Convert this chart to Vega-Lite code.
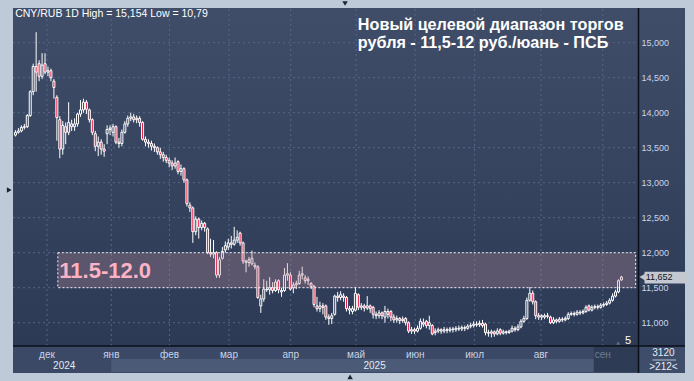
{
"$schema": "https://vega.github.io/schema/vega-lite/v6.json",
"width": 682, "height": 365,
"autosize": "none",
"padding": {"left": 8, "top": 8, "right": 4, "bottom": 8},
"background": "#bfcad8",
"config": {"view": {"stroke": null}, "text": {"font": "Liberation Sans"}},
"datasets": {
"candles": [
{"i":0,"o":13.68,"h":13.75,"l":13.66,"c":13.72},{"i":1,"o":13.72,"h":13.78,"l":13.70,"c":13.74},{"i":2,"o":13.74,"h":13.82,"l":13.72,"c":13.79},{"i":3,"o":13.79,"h":13.84,"l":13.76,"c":13.80},{"i":4,"o":13.80,"h":13.98,"l":13.78,"c":13.96},{"i":5,"o":13.96,"h":14.32,"l":13.94,"c":14.30},{"i":6,"o":14.30,"h":14.70,"l":14.25,"c":14.66},{"i":7,"o":14.66,"h":15.15,"l":14.30,"c":14.58},{"i":8,"o":14.70,"h":14.75,"l":14.45,"c":14.52},{"i":9,"o":14.52,"h":14.85,"l":14.48,"c":14.68},
{"i":10,"o":14.70,"h":14.85,"l":14.55,"c":14.58},{"i":11,"o":14.58,"h":14.66,"l":14.52,"c":14.60},{"i":12,"o":14.60,"h":14.63,"l":14.45,"c":14.50},{"i":13,"o":14.45,"h":14.48,"l":14.20,"c":14.36},{"i":14,"o":14.22,"h":14.25,"l":13.60,"c":13.93},{"i":15,"o":13.90,"h":13.95,"l":13.35,"c":13.48},{"i":16,"o":13.48,"h":13.88,"l":13.40,"c":13.82},{"i":17,"o":13.80,"h":13.86,"l":13.55,"c":13.72},{"i":18,"o":13.72,"h":14.15,"l":13.68,"c":13.86},{"i":19,"o":13.84,"h":13.90,"l":13.74,"c":13.80},
{"i":20,"o":13.80,"h":13.92,"l":13.74,"c":13.84},{"i":21,"o":13.84,"h":14.00,"l":13.80,"c":13.98},{"i":22,"o":13.98,"h":14.18,"l":13.94,"c":14.04},{"i":23,"o":14.04,"h":14.20,"l":14.00,"c":14.15},{"i":24,"o":14.15,"h":14.18,"l":13.98,"c":14.05},{"i":25,"o":14.04,"h":14.06,"l":13.86,"c":13.90},{"i":26,"o":13.90,"h":13.92,"l":13.68,"c":13.72},{"i":27,"o":13.70,"h":13.74,"l":13.45,"c":13.52},{"i":28,"o":13.52,"h":13.66,"l":13.38,"c":13.58},{"i":29,"o":13.58,"h":13.62,"l":13.40,"c":13.48},
{"i":30,"o":13.48,"h":13.55,"l":13.37,"c":13.45},{"i":31,"o":13.70,"h":13.82,"l":13.55,"c":13.76},{"i":32,"o":13.76,"h":13.82,"l":13.68,"c":13.78},{"i":33,"o":13.72,"h":13.84,"l":13.66,"c":13.80},{"i":34,"o":13.80,"h":13.82,"l":13.55,"c":13.58},{"i":35,"o":13.58,"h":13.64,"l":13.50,"c":13.56},{"i":36,"o":13.56,"h":13.76,"l":13.52,"c":13.72},{"i":37,"o":13.72,"h":13.88,"l":13.70,"c":13.84},{"i":38,"o":13.84,"h":13.96,"l":13.80,"c":13.92},{"i":39,"o":13.92,"h":14.00,"l":13.88,"c":13.94},
{"i":40,"o":13.94,"h":13.98,"l":13.86,"c":13.90},{"i":41,"o":13.90,"h":13.96,"l":13.85,"c":13.92},{"i":42,"o":13.92,"h":13.95,"l":13.80,"c":13.86},{"i":43,"o":13.86,"h":13.88,"l":13.60,"c":13.62},{"i":44,"o":13.62,"h":13.66,"l":13.52,"c":13.58},{"i":45,"o":13.58,"h":13.62,"l":13.50,"c":13.56},{"i":46,"o":13.56,"h":13.60,"l":13.46,"c":13.52},{"i":47,"o":13.52,"h":13.56,"l":13.44,"c":13.50},{"i":48,"o":13.50,"h":13.52,"l":13.40,"c":13.44},{"i":49,"o":13.44,"h":13.50,"l":13.34,"c":13.40},
{"i":50,"o":13.40,"h":13.44,"l":13.30,"c":13.36},{"i":51,"o":13.36,"h":13.40,"l":13.28,"c":13.32},{"i":52,"o":13.32,"h":13.36,"l":13.22,"c":13.28},{"i":53,"o":13.28,"h":13.32,"l":13.18,"c":13.24},{"i":54,"o":13.24,"h":13.36,"l":13.20,"c":13.28},{"i":55,"o":13.30,"h":13.32,"l":13.12,"c":13.16},{"i":56,"o":13.16,"h":13.26,"l":13.10,"c":13.20},{"i":57,"o":13.20,"h":13.22,"l":13.00,"c":13.04},{"i":58,"o":13.04,"h":13.06,"l":12.66,"c":12.70},{"i":59,"o":12.68,"h":12.72,"l":12.58,"c":12.64},
{"i":60,"o":12.64,"h":12.66,"l":12.14,"c":12.30},{"i":61,"o":12.30,"h":12.52,"l":12.25,"c":12.48},{"i":62,"o":12.48,"h":12.50,"l":12.20,"c":12.36},{"i":63,"o":12.36,"h":12.46,"l":12.32,"c":12.42},{"i":64,"o":12.42,"h":12.44,"l":12.30,"c":12.36},{"i":65,"o":12.34,"h":12.36,"l":11.98,"c":12.00},{"i":66,"o":12.00,"h":12.20,"l":11.94,"c":11.98},{"i":67,"o":11.98,"h":12.18,"l":11.92,"c":12.00},{"i":68,"o":12.00,"h":12.02,"l":11.64,"c":11.68},{"i":69,"o":11.68,"h":11.94,"l":11.64,"c":11.90},
{"i":70,"o":11.92,"h":12.08,"l":11.90,"c":12.02},{"i":71,"o":12.04,"h":12.16,"l":12.00,"c":12.10},{"i":72,"o":12.08,"h":12.20,"l":12.04,"c":12.14},{"i":73,"o":12.14,"h":12.24,"l":12.06,"c":12.12},{"i":74,"o":12.12,"h":12.37,"l":12.10,"c":12.18},{"i":75,"o":12.18,"h":12.32,"l":12.14,"c":12.22},{"i":76,"o":12.28,"h":12.30,"l":12.10,"c":12.14},{"i":77,"o":12.14,"h":12.16,"l":11.84,"c":11.88},{"i":78,"o":11.88,"h":11.90,"l":11.72,"c":11.86},{"i":79,"o":11.86,"h":11.94,"l":11.80,"c":11.90},
{"i":80,"o":11.84,"h":12.03,"l":11.82,"c":11.92},{"i":81,"o":11.82,"h":11.86,"l":11.76,"c":11.80},{"i":82,"o":11.80,"h":11.82,"l":11.34,"c":11.36},{"i":83,"o":11.24,"h":11.40,"l":11.14,"c":11.34},{"i":84,"o":11.34,"h":11.62,"l":11.30,"c":11.48},{"i":85,"o":11.48,"h":11.60,"l":11.44,"c":11.47},{"i":86,"o":11.47,"h":11.65,"l":11.40,"c":11.50},{"i":87,"o":11.50,"h":11.58,"l":11.42,"c":11.46},{"i":88,"o":11.46,"h":11.62,"l":11.44,"c":11.58},{"i":89,"o":11.60,"h":11.62,"l":11.42,"c":11.47},
{"i":90,"o":11.44,"h":11.50,"l":11.37,"c":11.46},{"i":91,"o":11.46,"h":11.78,"l":11.44,"c":11.68},{"i":92,"o":11.68,"h":11.85,"l":11.60,"c":11.70},{"i":93,"o":11.68,"h":11.72,"l":11.46,"c":11.48},{"i":94,"o":11.50,"h":11.58,"l":11.42,"c":11.54},{"i":95,"o":11.54,"h":11.60,"l":11.48,"c":11.56},{"i":96,"o":11.56,"h":11.74,"l":11.54,"c":11.68},{"i":97,"o":11.68,"h":11.80,"l":11.62,"c":11.70},{"i":98,"o":11.64,"h":11.68,"l":11.56,"c":11.60},{"i":99,"o":11.60,"h":11.66,"l":11.54,"c":11.62},
{"i":100,"o":11.56,"h":11.58,"l":11.48,"c":11.52},{"i":101,"o":11.52,"h":11.54,"l":11.22,"c":11.26},{"i":102,"o":11.24,"h":11.37,"l":11.16,"c":11.20},{"i":103,"o":11.20,"h":11.30,"l":11.15,"c":11.24},{"i":104,"o":11.24,"h":11.28,"l":11.12,"c":11.22},{"i":105,"o":11.24,"h":11.26,"l":11.04,"c":11.08},{"i":106,"o":11.08,"h":11.12,"l":10.97,"c":11.06},{"i":107,"o":11.06,"h":11.14,"l":10.98,"c":11.10},{"i":108,"o":11.12,"h":11.40,"l":11.10,"c":11.38},{"i":109,"o":11.38,"h":11.44,"l":11.30,"c":11.36},
{"i":110,"o":11.36,"h":11.45,"l":11.32,"c":11.40},{"i":111,"o":11.38,"h":11.42,"l":11.30,"c":11.36},{"i":112,"o":11.36,"h":11.38,"l":11.16,"c":11.20},{"i":113,"o":11.20,"h":11.24,"l":11.12,"c":11.18},{"i":114,"o":11.16,"h":11.24,"l":11.12,"c":11.20},{"i":115,"o":11.18,"h":11.51,"l":11.16,"c":11.42},{"i":116,"o":11.40,"h":11.42,"l":11.18,"c":11.22},{"i":117,"o":11.22,"h":11.28,"l":11.18,"c":11.24},{"i":118,"o":11.24,"h":11.27,"l":11.16,"c":11.21},{"i":119,"o":11.21,"h":11.38,"l":11.18,"c":11.24},
{"i":120,"o":11.24,"h":11.26,"l":11.14,"c":11.20},{"i":121,"o":11.22,"h":11.24,"l":11.06,"c":11.12},{"i":122,"o":11.12,"h":11.16,"l":11.05,"c":11.10},{"i":123,"o":11.10,"h":11.18,"l":11.06,"c":11.14},{"i":124,"o":11.14,"h":11.16,"l":11.05,"c":11.10},{"i":125,"o":11.08,"h":11.24,"l":11.00,"c":11.16},{"i":126,"o":11.16,"h":11.20,"l":11.06,"c":11.12},{"i":127,"o":11.16,"h":11.18,"l":11.02,"c":11.08},{"i":128,"o":11.08,"h":11.12,"l":11.00,"c":11.04},{"i":129,"o":11.04,"h":11.10,"l":11.00,"c":11.06},
{"i":130,"o":11.06,"h":11.08,"l":10.98,"c":11.03},{"i":131,"o":11.03,"h":11.09,"l":11.00,"c":11.05},{"i":132,"o":11.06,"h":11.08,"l":10.96,"c":11.00},{"i":133,"o":11.00,"h":11.02,"l":10.85,"c":10.88},{"i":134,"o":10.88,"h":10.94,"l":10.84,"c":10.90},{"i":135,"o":10.90,"h":10.93,"l":10.84,"c":10.88},{"i":136,"o":10.88,"h":10.96,"l":10.86,"c":10.92},{"i":137,"o":10.92,"h":11.06,"l":10.90,"c":11.02},{"i":138,"o":11.00,"h":11.06,"l":10.94,"c":10.98},{"i":139,"o":11.02,"h":11.04,"l":10.92,"c":10.96},
{"i":140,"o":10.96,"h":11.10,"l":10.90,"c":11.00},{"i":141,"o":10.96,"h":10.98,"l":10.82,"c":10.84},{"i":142,"o":10.86,"h":10.92,"l":10.82,"c":10.88},{"i":143,"o":10.88,"h":10.93,"l":10.85,"c":10.90},{"i":144,"o":10.90,"h":10.92,"l":10.84,"c":10.88},{"i":145,"o":10.88,"h":10.94,"l":10.85,"c":10.90},{"i":146,"o":10.90,"h":10.93,"l":10.85,"c":10.89},{"i":147,"o":10.89,"h":10.94,"l":10.86,"c":10.91},{"i":148,"o":10.91,"h":10.94,"l":10.86,"c":10.90},{"i":149,"o":10.90,"h":10.95,"l":10.87,"c":10.92},
{"i":150,"o":10.92,"h":10.96,"l":10.88,"c":10.91},{"i":151,"o":10.91,"h":10.96,"l":10.88,"c":10.93},{"i":152,"o":10.93,"h":10.96,"l":10.88,"c":10.92},{"i":153,"o":10.92,"h":10.98,"l":10.90,"c":10.95},{"i":154,"o":10.95,"h":11.00,"l":10.92,"c":10.96},{"i":155,"o":10.96,"h":11.02,"l":10.93,"c":10.98},{"i":156,"o":10.98,"h":11.02,"l":10.94,"c":10.97},{"i":157,"o":10.97,"h":11.03,"l":10.94,"c":10.99},{"i":158,"o":10.99,"h":11.04,"l":10.93,"c":10.96},{"i":159,"o":10.98,"h":11.00,"l":10.82,"c":10.86},
{"i":160,"o":10.86,"h":10.90,"l":10.80,"c":10.85},{"i":161,"o":10.85,"h":10.90,"l":10.79,"c":10.87},{"i":162,"o":10.87,"h":10.89,"l":10.80,"c":10.84},{"i":163,"o":10.84,"h":10.92,"l":10.82,"c":10.88},{"i":164,"o":10.90,"h":10.92,"l":10.82,"c":10.85},{"i":165,"o":10.85,"h":10.90,"l":10.83,"c":10.87},{"i":166,"o":10.87,"h":10.89,"l":10.83,"c":10.86},{"i":167,"o":10.86,"h":10.90,"l":10.84,"c":10.88},{"i":168,"o":10.88,"h":10.96,"l":10.86,"c":10.92},{"i":169,"o":10.92,"h":10.95,"l":10.87,"c":10.90},
{"i":170,"o":10.90,"h":10.98,"l":10.88,"c":10.94},{"i":171,"o":10.94,"h":11.05,"l":10.92,"c":11.02},{"i":172,"o":11.02,"h":11.10,"l":11.00,"c":11.06},{"i":173,"o":11.06,"h":11.36,"l":11.04,"c":11.32},{"i":174,"o":11.32,"h":11.51,"l":11.30,"c":11.42},{"i":175,"o":11.42,"h":11.46,"l":11.26,"c":11.30},{"i":176,"o":11.30,"h":11.32,"l":11.05,"c":11.10},{"i":177,"o":11.08,"h":11.14,"l":11.04,"c":11.10},{"i":178,"o":11.10,"h":11.12,"l":11.04,"c":11.08},{"i":179,"o":11.08,"h":11.13,"l":11.05,"c":11.10},
{"i":180,"o":11.10,"h":11.14,"l":11.06,"c":11.09},{"i":181,"o":11.08,"h":11.10,"l":10.98,"c":11.00},{"i":182,"o":11.00,"h":11.08,"l":10.98,"c":11.04},{"i":183,"o":11.04,"h":11.06,"l":10.99,"c":11.02},{"i":184,"o":11.02,"h":11.08,"l":11.00,"c":11.05},{"i":185,"o":11.05,"h":11.08,"l":11.01,"c":11.04},{"i":186,"o":11.04,"h":11.09,"l":11.02,"c":11.06},{"i":187,"o":11.06,"h":11.15,"l":11.04,"c":11.12},{"i":188,"o":11.12,"h":11.16,"l":11.10,"c":11.13},{"i":189,"o":11.13,"h":11.16,"l":11.09,"c":11.12},
{"i":190,"o":11.12,"h":11.18,"l":11.10,"c":11.15},{"i":191,"o":11.15,"h":11.18,"l":11.11,"c":11.14},{"i":192,"o":11.14,"h":11.19,"l":11.12,"c":11.16},{"i":193,"o":11.16,"h":11.25,"l":11.14,"c":11.22},{"i":194,"o":11.24,"h":11.26,"l":11.16,"c":11.18},{"i":195,"o":11.18,"h":11.25,"l":11.16,"c":11.22},{"i":196,"o":11.22,"h":11.26,"l":11.19,"c":11.23},{"i":197,"o":11.23,"h":11.26,"l":11.19,"c":11.22},{"i":198,"o":11.22,"h":11.28,"l":11.20,"c":11.25},{"i":199,"o":11.25,"h":11.29,"l":11.22,"c":11.26},
{"i":200,"o":11.26,"h":11.31,"l":11.24,"c":11.28},{"i":201,"o":11.28,"h":11.35,"l":11.26,"c":11.32},{"i":202,"o":11.32,"h":11.42,"l":11.30,"c":11.38},{"i":203,"o":11.38,"h":11.47,"l":11.36,"c":11.44},{"i":204,"o":11.44,"h":11.62,"l":11.42,"c":11.60},{"i":205,"o":11.61,"h":11.67,"l":11.60,"c":11.652}
],
"months": [{"m":10.667,"t":"дек"},{"m":32.43,"t":"янв"},{"m":52.1,"t":"фев"},{"m":72.23,"t":"мар"},{"m":93.1,"t":"апр"},{"m":115.23,"t":"май"},{"m":135.23,"t":"июн"},{"m":155.33,"t":"июл"},{"m":177.77,"t":"авг"},{"m":198.67,"t":"сен"}],
"years": [{"m":16.5,"t":"2024"},{"m":121.5,"t":"2025"}],
"levels": [{"v":11,"t":"11,000"},{"v":11.5,"t":"11,500"},{"v":12,"t":"12,000"},{"v":12.5,"t":"12,500"},{"v":13,"t":"13,000"},{"v":13.5,"t":"13,500"},{"v":14,"t":"14,000"},{"v":14.5,"t":"14,500"},{"v":15,"t":"15,000"}],
"last": [{"v":11.652,"t":"11,652"}]
},
"layer": [
{"data":{"values":[{}]},"mark":{"type":"rect","color":{"gradient":"linear","x1":0,"y1":0,"x2":0,"y2":1,"stops":[{"offset":0,"color":"#3f4d68"},{"offset":0.93,"color":"#2c3a55"},{"offset":1,"color":"#2c3a55"}]}},
 "encoding":{"x":{"datum":-0.8333,"type":"quantitative","scale":{"domain":[-0.8333,226.5],"nice":false,"zero":false},"axis":null},"x2":{"datum":226.5},"y":{"datum":10.2814,"type":"quantitative","scale":{"domain":[10.2814,15.4957],"nice":false,"zero":false},"axis":null},"y2":{"datum":15.4957}}},
{"data":{"values":[{}]},"mark":{"type":"rect","color":"#3b4966"},
 "encoding":{"x":{"datum":-0.8333,"type":"quantitative","axis":null},"x2":{"datum":226.5},"y":{"datum":10.2814,"type":"quantitative","axis":null},"y2":{"datum":10.667}}},
{"data":{"values":[{}]},"mark":{"type":"rect","color":"#4a5a77"},
 "encoding":{"x":{"datum":32.4,"type":"quantitative","axis":null},"x2":{"datum":195.67},"y":{"datum":10.296,"type":"quantitative","axis":null},"y2":{"datum":10.481}}},
{"data":{"values":[{}]},"mark":{"type":"rect","color":"#2e3b55"},
 "encoding":{"x":{"datum":195.67,"type":"quantitative","axis":null},"x2":{"datum":210.77},"y":{"datum":10.296,"type":"quantitative","axis":null},"y2":{"datum":10.653}}},
{"data":{"values":[{}]},"mark":{"type":"rect","color":"#3e4d69"},
 "encoding":{"x":{"datum":210.77,"type":"quantitative","axis":null},"x2":{"datum":226.5},"y":{"datum":10.2814,"type":"quantitative","axis":null},"y2":{"datum":10.667}}},
{"data":{"name":"levels"},"mark":{"type":"rule","color":"#56668a","strokeDash":[2,3],"strokeWidth":1},
 "encoding":{"y":{"field":"v","type":"quantitative","axis":null},"x":{"datum":-0.8333,"type":"quantitative","axis":null},"x2":{"datum":210.77}}},
{"data":{"name":"months"},"mark":{"type":"rule","color":"#56668a","strokeDash":[2,3],"strokeWidth":1},
 "encoding":{"x":{"field":"m","type":"quantitative","axis":null},"y":{"datum":10.667,"type":"quantitative","axis":null},"y2":{"datum":15.4957}}},
{"data":{"name":"levels"},"mark":{"type":"text","font":"Liberation Sans","fontSize":9,"align":"left","baseline":"middle","color":"#c9d6ec"},
 "encoding":{"x":{"datum":211.8,"type":"quantitative","axis":null},"y":{"field":"v","type":"quantitative","axis":null},"text":{"field":"t"}}},
{"data":{"name":"candles"},"mark":{"type":"rule","color":"#ffffff","strokeWidth":1},
 "encoding":{"x":{"field":"i","type":"quantitative","axis":null},"y":{"field":"l","type":"quantitative","axis":null},"y2":{"field":"h"}}},
{"data":{"name":"candles"},"mark":{"type":"bar","size":2,"stroke":"#ffffff","strokeWidth":1},
 "encoding":{"x":{"field":"i","type":"quantitative","axis":null},"y":{"field":"o","type":"quantitative","axis":null},"y2":{"field":"c"},
  "fill":{"condition":{"test":"datum.c < datum.o","value":"#e8163f"},"value":"#34425e"}}},
{"data":{"values":[{}]},"mark":{"type":"rect","fill":"#c08a9a","fillOpacity":0.3,"stroke":"#ffffff","strokeOpacity":0.9,"strokeDash":[2,2],"strokeWidth":1},
 "encoding":{"x":{"datum":14.33,"type":"quantitative","axis":null},"x2":{"datum":209.8},"y":{"datum":11.5,"type":"quantitative","axis":null},"y2":{"datum":12.0}}},
{"data":{"values":[{}]},"mark":{"type":"text","text":"11.5-12.0","font":"Liberation Sans","fontWeight":"bold","fontSize":22,"color":"#fbb3c5","align":"left","baseline":"alphabetic"},
 "encoding":{"x":{"datum":14.83,"type":"quantitative","axis":null},"y":{"datum":11.639,"type":"quantitative","axis":null}}},
{"data":{"values":[{}]},"mark":{"type":"rule","color":"#0b0f18","strokeWidth":1.5},
 "encoding":{"x":{"datum":210.77,"type":"quantitative","axis":null},"y":{"datum":10.2814,"type":"quantitative","axis":null},"y2":{"datum":15.4957}}},
{"data":{"values":[{}]},"mark":{"type":"rule","color":"#0b0f18","strokeWidth":1.5},
 "encoding":{"y":{"datum":10.667,"type":"quantitative","axis":null},"x":{"datum":-0.8333,"type":"quantitative","axis":null},"x2":{"datum":226.5}}},
{"data":{"values":[{}]},"mark":{"type":"text","text":"CNY/RUB 1D High = 15,154 Low = 10,79","font":"Liberation Sans","fontSize":10.5,"color":"#ffffff","align":"left","baseline":"alphabetic"},
 "encoding":{"x":{"datum":-0.1,"type":"quantitative","axis":null},"y":{"datum":15.367,"type":"quantitative","axis":null}}},
{"data":{"values":[{}]},"mark":{"type":"text","text":"Новый целевой диапазон торгов\nрубля - 11,5-12 руб./юань - ПСБ","lineBreak":"\n","lineHeight":18,"font":"Liberation Sans","fontWeight":"bold","fontSize":16.2,"color":"#ffffff","align":"left","baseline":"alphabetic"},
 "encoding":{"x":{"datum":115.83,"type":"quantitative","axis":null},"y":{"datum":15.181,"type":"quantitative","axis":null}}},
{"data":{"name":"months"},"mark":{"type":"text","font":"Liberation Sans","fontSize":10,"align":"center","baseline":"middle"},
 "encoding":{"x":{"field":"m","type":"quantitative","axis":null},"y":{"datum":10.539,"type":"quantitative","axis":null},"text":{"field":"t"},
  "color":{"condition":{"test":"datum.t == 'сен'","value":"#6f7c93"},"value":"#c8d4e8"}}},
{"data":{"name":"years"},"mark":{"type":"text","font":"Liberation Sans","fontSize":10,"align":"center","baseline":"middle","color":"#e2e9f4"},
 "encoding":{"x":{"field":"m","type":"quantitative","axis":null},"y":{"datum":10.381,"type":"quantitative","axis":null},"text":{"field":"t"}}},
{"data":{"name":"last"},"mark":{"type":"rect","color":"#c4c9d1"},
 "encoding":{"x":{"datum":212.8,"type":"quantitative","axis":null},"x2":{"datum":227.2},"y":{"datum":11.56,"type":"quantitative","axis":null},"y2":{"datum":11.727}}},
{"data":{"name":"last"},"mark":{"type":"point","shape":"triangle-left","filled":true,"size":60,"color":"#c4c9d1","opacity":1},
 "encoding":{"x":{"datum":212.2,"type":"quantitative","axis":null},"y":{"field":"v","type":"quantitative","axis":null}}},
{"data":{"name":"last"},"mark":{"type":"text","font":"Liberation Sans","fontSize":9,"align":"left","baseline":"middle","color":"#10141c"},
 "encoding":{"x":{"datum":213.2,"type":"quantitative","axis":null},"y":{"field":"v","type":"quantitative","axis":null},"text":{"field":"t"}}},
{"data":{"values":[{}]},"mark":{"type":"text","text":"3120","font":"Liberation Sans","fontSize":10,"align":"center","baseline":"middle","color":"#e6ecf6"},
 "encoding":{"x":{"datum":219.2,"type":"quantitative","axis":null},"y":{"datum":10.567,"type":"quantitative","axis":null}}},
{"data":{"values":[{}]},"mark":{"type":"text","text":">212<","font":"Liberation Sans","fontSize":10,"align":"center","baseline":"middle","color":"#e6ecf6"},
 "encoding":{"x":{"datum":219.2,"type":"quantitative","axis":null},"y":{"datum":10.367,"type":"quantitative","axis":null}}},
{"data":{"values":[{}]},"mark":{"type":"rule","color":"#b8c2d2","strokeWidth":1},
 "encoding":{"y":{"datum":10.467,"type":"quantitative","axis":null},"x":{"datum":215.5,"type":"quantitative","axis":null},"x2":{"datum":223.5}}},
{"data":{"values":[{}]},"mark":{"type":"text","text":"5","font":"Liberation Sans","fontSize":11,"align":"center","baseline":"middle","color":"#ffffff"},
 "encoding":{"x":{"datum":207.2,"type":"quantitative","axis":null},"y":{"datum":10.739,"type":"quantitative","axis":null}}},
{"data":{"values":[{}]},"mark":{"type":"point","shape":"triangle-up","filled":true,"size":18,"color":"#5d6b84","opacity":1},
 "encoding":{"x":{"datum":203.9,"type":"quantitative","axis":null},"y":{"datum":10.71,"type":"quantitative","axis":null}}},
{"data":{"values":[{}]},"mark":{"type":"point","shape":"triangle-right","filled":true,"size":30,"color":"#1c2433","opacity":1},
 "encoding":{"x":{"datum":-2.1,"type":"quantitative","axis":null},"y":{"datum":12.896,"type":"quantitative","axis":null}}},
{"data":{"values":[{}]},"mark":{"type":"point","shape":"triangle-down","filled":true,"size":30,"color":"#1c2433","opacity":1},
 "encoding":{"x":{"datum":111.5,"type":"quantitative","axis":null},"y":{"datum":15.56,"type":"quantitative","axis":null}}},
{"data":{"values":[{}]},"mark":{"type":"point","shape":"triangle-up","filled":true,"size":30,"color":"#1c2433","opacity":1},
 "encoding":{"x":{"datum":113.2,"type":"quantitative","axis":null},"y":{"datum":10.225,"type":"quantitative","axis":null}}}
]
}
